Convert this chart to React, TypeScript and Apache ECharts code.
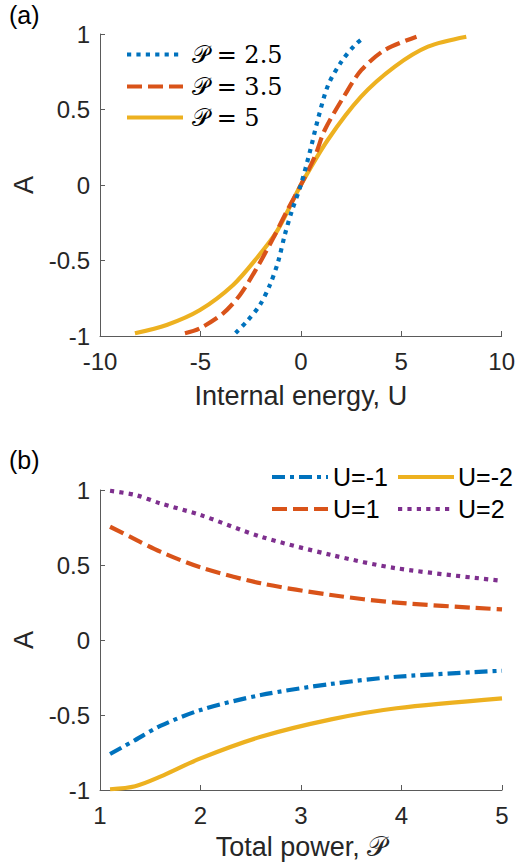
import React, { useEffect, useRef } from "react";
import * as echarts from "echarts";

// ---------- data ----------
// Panel (a): A versus internal energy U, for three total powers
const u25 = [-3.25, -2.7, -2.04, -1.54, -1.13, -0.8, -0.46, 0, 0.45, 0.86, 1.36, 2.02, 2.69, 3.15];
const a25 = [-0.98, -0.905, -0.795, -0.662, -0.508, -0.331, -0.177, 0, 0.22, 0.44, 0.662, 0.817, 0.927, 0.978];
const u35 = [-5.77, -5.02, -3.87, -3.03, -2.2, -1.38, -0.71, 0, 0.7, 1.19, 2.19, 3.02, 4.18, 5.76];
const a35 = [-0.982, -0.949, -0.85, -0.728, -0.552, -0.353, -0.177, 0, 0.19, 0.364, 0.596, 0.762, 0.894, 0.982];
const u5 = [-8.26, -6.68, -5.02, -3.37, -2.2, -1.2, 0, 1.34, 3.0, 4.68, 6.33, 8.24];
const a5 = [-0.982, -0.927, -0.828, -0.662, -0.485, -0.309, 0, 0.298, 0.585, 0.784, 0.916, 0.982];
const legendA = ["𝒫 = 2.5", "𝒫 = 3.5", "𝒫 = 5"];

// Panel (b): A versus total power P, for four internal energies
const powerP = [1.1, 1.35, 1.6, 2.0, 2.6, 3.3, 3.95, 5.0];
const uMinus1 = [-0.76, -0.667, -0.573, -0.467, -0.367, -0.293, -0.245, -0.205];
const uMinus2 = [-0.995, -0.975, -0.911, -0.789, -0.645, -0.529, -0.455, -0.389];
const uPlus1 = [0.755, 0.671, 0.589, 0.484, 0.378, 0.3, 0.249, 0.204];
const uPlus2 = [0.995, 0.967, 0.911, 0.833, 0.689, 0.567, 0.478, 0.395];
const legendB = ["U=-1", "U=-2", "U=1", "U=2"];

const xTicksA = [-10, -5, 0, 5, 10];
const xTicksB = [1, 2, 3, 4, 5];

// ---------- styling ----------
const BLUE = "#0072BD";
const ORANGE = "#D95319";
const YELLOW = "#EDB120";
const PURPLE = "#7E2F8E";
const TXT = "#262626";
const AX = "#5a5a5a";
const LW = 4.2;
const DOT = [4.2, 5.2];
const DASH = [15, 6];
const DASHDOT = [13, 5, 4, 5];
const SANS = "Liberation Sans, Arial, Helvetica, sans-serif";
const SERIF = "DejaVu Serif, Liberation Serif, serif";

const zip = (xs: number[], ys: number[]) => xs.map((x, i) => [x, ys[i]]);

export default function App() {
  const ref = useRef<HTMLDivElement>(null);

  useEffect(() => {
    document.body.style.margin = "0";
    if (!ref.current) return;
    const chart = echarts.init(ref.current, undefined, { renderer: "svg" });

    const axisCommon = {
      axisLine: { show: true, onZero: false, lineStyle: { color: AX, width: 1 } },
      axisTick: { show: true, inside: true, length: 5, lineStyle: { color: AX, width: 1 } },
      splitLine: { show: false },
      axisLabel: { color: TXT, fontSize: 24, fontFamily: SANS },
      nameTextStyle: { color: TXT, fontSize: 27, fontFamily: SANS },
      nameLocation: "middle" as const,
    };

    const lineSeries = (
      name: string,
      data: number[][],
      color: string,
      type: any,
      axis: number
    ) => ({
      name,
      type: "line",
      xAxisIndex: axis,
      yAxisIndex: axis,
      data,
      showSymbol: false,
      symbol: "none",
      smooth: 0.3,
      clip: false,
      lineStyle: { color, width: LW, type, cap: "butt", join: "round" },
      z: 3,
    });

    const legendItems: any[] = [];
    // legend (a)
    const la = [
      { y: 54.5, color: BLUE, dash: DOT },
      { y: 86.5, color: ORANGE, dash: DASH },
      { y: 117.5, color: YELLOW, dash: null },
    ];
    la.forEach((it, i) => {
      legendItems.push({
        type: "line",
        shape: { x1: 127, y1: it.y, x2: 183, y2: it.y },
        style: { stroke: it.color, lineWidth: LW, lineDash: it.dash || undefined, lineCap: "butt" },
      });
      legendItems.push({
        type: "text",
        x: 192,
        y: it.y,
        style: {
          text: legendA[i],
          fill: "#000",
          font: `24px ${SERIF}`,
          verticalAlign: "middle",
          align: "left",
        },
      });
    });
    // legend (b)
    const lb = [
      { x: 272, tx: 333, y: 477, color: BLUE, dash: DASHDOT },
      { x: 398, tx: 458, y: 477, color: YELLOW, dash: null },
      { x: 272, tx: 333, y: 509, color: ORANGE, dash: DASH },
      { x: 398, tx: 458, y: 509, color: PURPLE, dash: DOT },
    ];
    lb.forEach((it, i) => {
      legendItems.push({
        type: "line",
        shape: { x1: it.x, y1: it.y, x2: it.x + 56, y2: it.y },
        style: { stroke: it.color, lineWidth: LW, lineDash: it.dash || undefined, lineCap: "butt" },
      });
      legendItems.push({
        type: "text",
        x: it.tx,
        y: it.y,
        style: {
          text: legendB[i],
          fill: "#000",
          font: `25px ${SANS}`,
          verticalAlign: "middle",
          align: "left",
        },
      });
    });

    chart.setOption({
      animation: false,
      backgroundColor: "#fff",
      grid: [
        { left: 100, top: 34, width: 402, height: 302 },
        { left: 100, top: 490, width: 402, height: 300 },
      ],
      xAxis: [
        {
          ...axisCommon,
          type: "value",
          gridIndex: 0,
          min: xTicksA[0],
          max: xTicksA[xTicksA.length - 1],
          interval: 5,
          name: "Internal energy, U",
          nameGap: 46,
          axisLabel: { ...axisCommon.axisLabel, margin: 13 },
        },
        {
          ...axisCommon,
          type: "value",
          gridIndex: 1,
          min: xTicksB[0],
          max: xTicksB[xTicksB.length - 1],
          interval: 1,
          name: "Total power, {p|𝒫}",
          nameGap: 43,
          nameTextStyle: {
            ...axisCommon.nameTextStyle,
            rich: { p: { fontSize: 27, fontFamily: SERIF, color: TXT } },
          },
          axisLabel: { ...axisCommon.axisLabel, margin: 13 },
        },
      ],
      yAxis: [
        {
          ...axisCommon,
          type: "value",
          gridIndex: 0,
          min: -1,
          max: 1,
          interval: 0.5,
          name: "A",
          nameGap: 51,
          axisLabel: { ...axisCommon.axisLabel, margin: 10 },
        },
        {
          ...axisCommon,
          type: "value",
          gridIndex: 1,
          min: -1,
          max: 1,
          interval: 0.5,
          name: "A",
          nameGap: 51,
          axisLabel: { ...axisCommon.axisLabel, margin: 10 },
        },
      ],
      series: [
        lineSeries("𝒫 = 5", zip(u5, a5), YELLOW, "solid", 0),
        lineSeries("𝒫 = 3.5", zip(u35, a35), ORANGE, DASH, 0),
        lineSeries("𝒫 = 2.5", zip(u25, a25), BLUE, DOT, 0),
        lineSeries("U=-2", zip(powerP, uMinus2), YELLOW, "solid", 1),
        lineSeries("U=-1", zip(powerP, uMinus1), BLUE, DASHDOT, 1),
        lineSeries("U=1", zip(powerP, uPlus1), ORANGE, DASH, 1),
        lineSeries("U=2", zip(powerP, uPlus2), PURPLE, DOT, 1),
      ],
      graphic: [
        {
          type: "text",
          x: 9,
          y: 15,
          style: { text: "(a)", fill: "#000", font: `25px ${SANS}`, verticalAlign: "middle", align: "left" },
        },
        {
          type: "text",
          x: 9,
          y: 460,
          style: { text: "(b)", fill: "#000", font: `25px ${SANS}`, verticalAlign: "middle", align: "left" },
        },
        ...legendItems,
      ],
    });

    return () => chart.dispose();
  }, []);

  return <div ref={ref} style={{ width: 518, height: 867 }} />;
}
